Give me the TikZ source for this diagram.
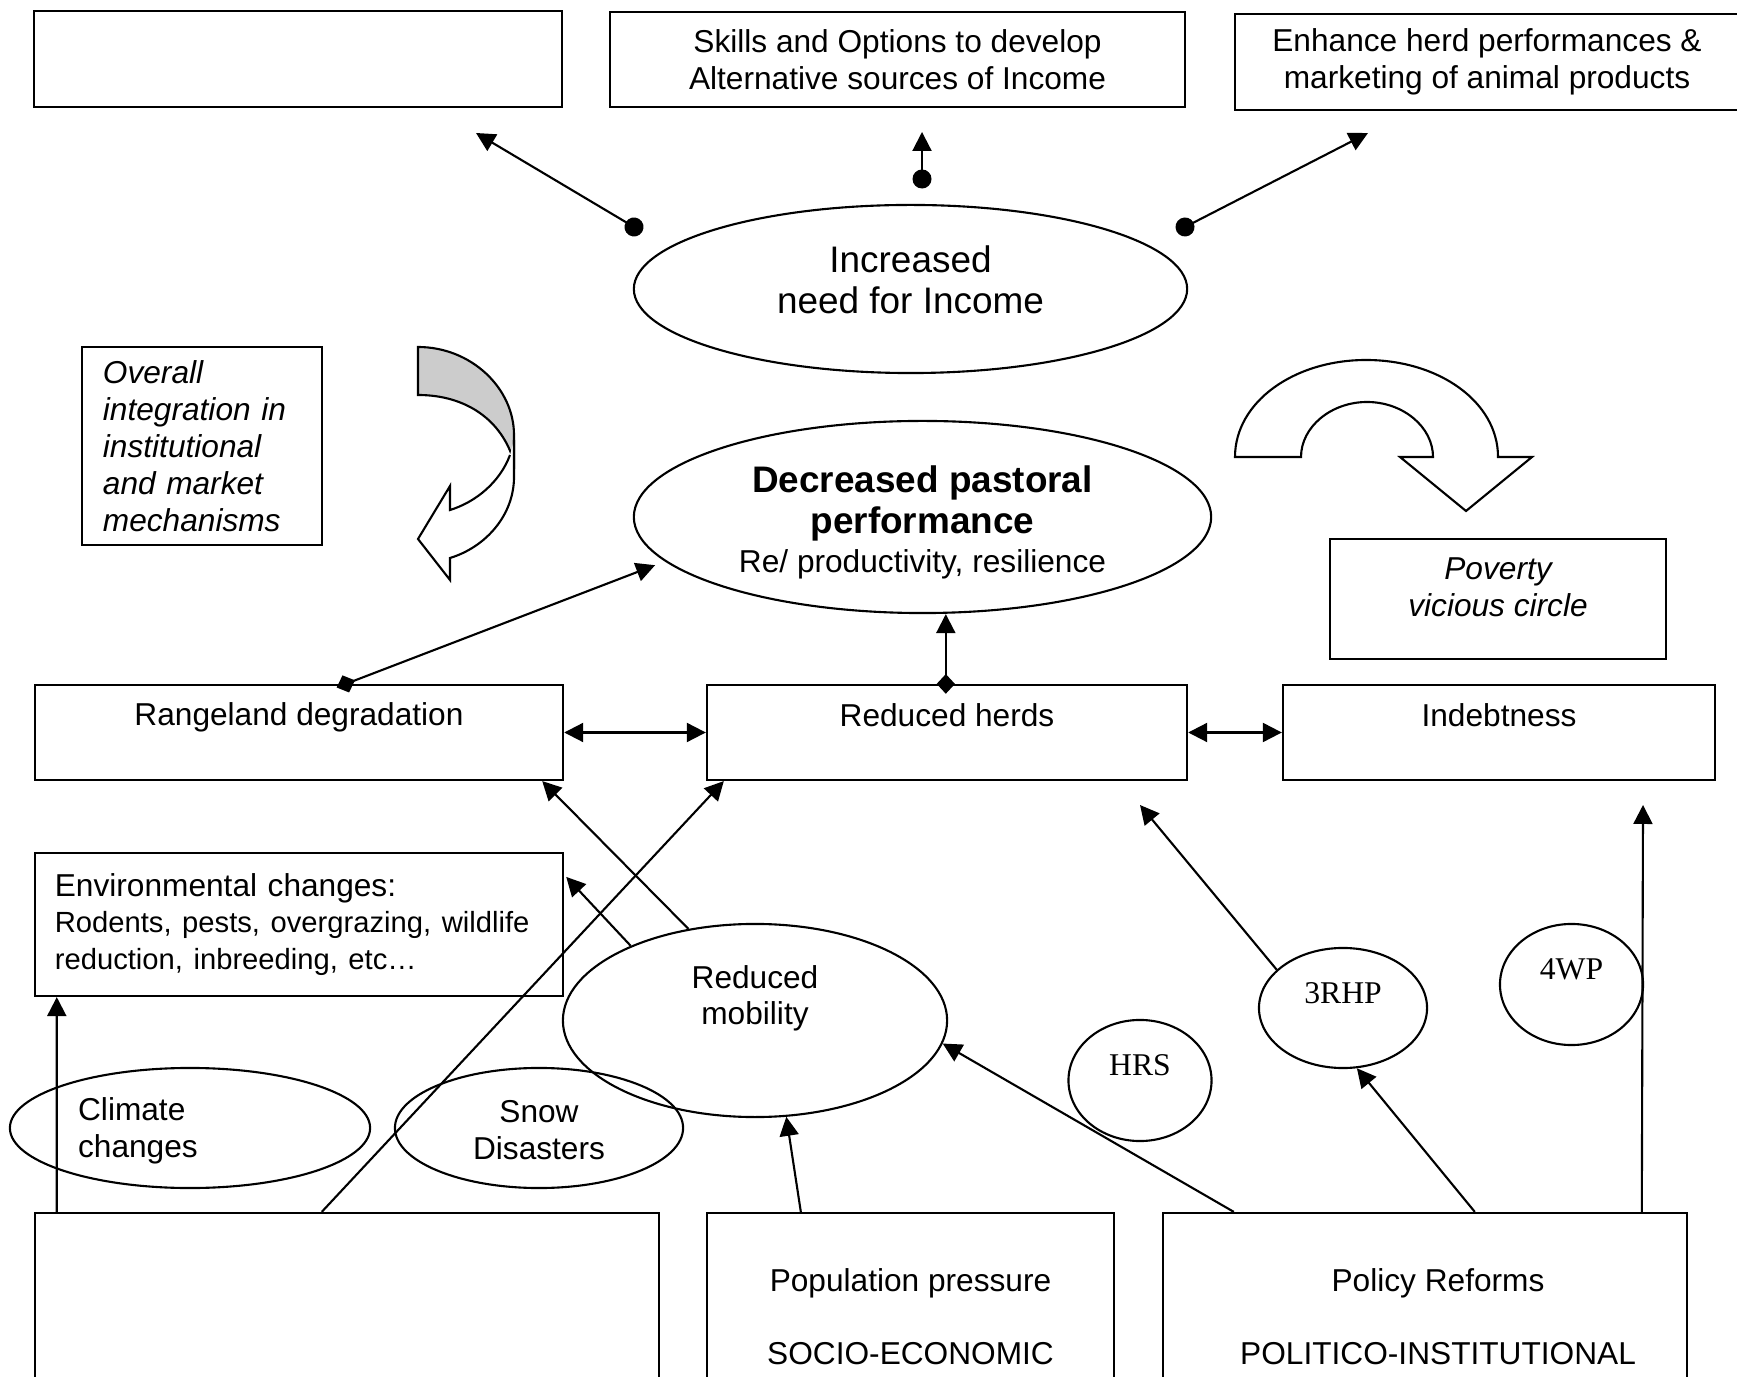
\documentclass[tikz,border=0pt]{standalone}
\usepackage{fontspec}
\setmainfont{Liberation Sans}
\newfontfamily\serifnum{Liberation Serif}
\usetikzlibrary{arrows.meta,shapes.geometric,calc}
\newcommand\smallfnt{\fontsize{9}{10.5}\selectfont}
\newcommand\bigfnt{\fontsize{10.5}{11.7}\selectfont}

\tikzset{
  box/.style={draw, rectangle, inner sep=0pt, align=center},
  oval/.style={draw, ellipse, inner sep=0pt, align=center},
  circlab/.style={yshift=4.3pt, font=\serifnum\smallfnt},
  arr/.style={-{Triangle[length=5.4pt, width=5.4pt]}},
  dblarr/.style={{Triangle[length=5.4pt, width=5.4pt]}-{Triangle[length=5.4pt, width=5.4pt]}},
  dotarr/.style={{Circle[length=5.4pt]}-{Triangle[length=5.4pt, width=5.4pt]}, shorten <=-2.7pt},
  diaarr/.style={{Diamond[length=5.6pt, width=5.2pt]}-{Triangle[length=5.4pt, width=5.4pt]}, shorten <=-2.8pt},
}

\begin{document}
\begin{tikzpicture}[x=0.01cm, y=-0.01cm, line width=0.6pt, font=\smallfnt]
\useasboundingbox (0,0) rectangle (1737,1377);
\clip (0,0) rectangle (1737,1377);

% top row
\node[box, minimum width=5.28cm, minimum height=0.96cm] (blank) at (298,59) {};
\node[box, minimum width=5.75cm, minimum height=0.95cm] (skills) at (897.5,59.5) {Skills and Options to develop\\Alternative sources of Income};
\node[box, minimum width=5.04cm, minimum height=0.96cm] (enhance) at (1487,62) {Enhance herd performances \&\\marketing of animal products};

\node[oval, minimum width=5.53cm, minimum height=1.68cm, label={[yshift=2.5pt, align=center, font=\bigfnt]center:{Increased\\need for Income}}] (income) at (910.5,289) {};

\coordinate (dotl) at (634,227);  \coordinate (tipl) at (476,133);
\coordinate (dotm) at (922,179);  \coordinate (tipm) at (922,132);
\coordinate (dotr) at (1185,227); \coordinate (tipr) at (1368,133);
\draw[dotarr] (dotl) -- (tipl);
\draw[dotarr] (dotm) -- (tipm);
\draw[dotarr] (dotr) -- (tipr);

% side notes and turning arrows
\node[box, minimum width=2.4cm, minimum height=1.98cm, text width=1.98cm, align=left, font=\itshape\smallfnt] (overall) at (202,446) {Overall\\integration in\\institutional\\and market\\mechanisms};

\filldraw[fill=gray!40] (418,347) .. controls (471,347) and (514,388) .. (514,435) -- (514,462) .. controls (502,420) and (466,395) .. (418,395) -- cycle;
\filldraw[fill=white] (514,440) -- (514,477) .. controls (514,515) and (486,547) .. (450,558) -- (450,580) -- (418,539) -- (450,486) -- (450,510) .. controls (476,502) and (500,482) .. (510,455);

\filldraw[fill=white] (1235,457) -- (1301,457) .. controls (1301,427) and (1331,402) .. (1367,402) .. controls (1403,402) and (1433,427) .. (1433,457) -- (1400,457) -- (1466,511) -- (1532,457) -- (1498,457) .. controls (1498,402) and (1439,360) .. (1366,360) .. controls (1294,360) and (1235,402) .. (1235,457) -- cycle;

\node[box, minimum width=3.36cm, minimum height=1.2cm, label={[yshift=3.4pt, align=center, font=\itshape\smallfnt]center:{Poverty\\vicious circle}}] (poverty) at (1498,599) {};

\node[oval, minimum width=5.77cm, minimum height=1.92cm, label={[yshift=-1.6pt, align=center, font=\bigfnt\bfseries]center:{Decreased pastoral\\performance\\[-0.6pt]{\mdseries\smallfnt Re/ productivity, resilience}}}] (decr) at (922.5,517) {};

% middle row
\node[box, minimum width=5.28cm, minimum height=0.95cm, label={[yshift=4.2pt]center:Rangeland degradation}] (range) at (299,732.5) {};
\node[box, minimum width=4.8cm, minimum height=0.95cm, label={[yshift=4.9pt]center:Reduced herds}] (herds) at (947,732.5) {};
\node[box, minimum width=4.32cm, minimum height=0.95cm, label={[yshift=4.9pt]center:Indebtness}] (debt) at (1499,732.5) {};

\coordinate (rd) at ($(range.north west)+(312,0)$);
\coordinate (hd) at ($(herds.north west)+(240,0)$);
\draw[diaarr] (rd) -- ($(decr.190)+(-11,3)$);
\draw[diaarr] (hd) -- (hd |- decr.south);
\draw[dblarr] (range.east) -- (herds.west);
\draw[dblarr] (herds.east) -- (debt.west);

% causes
\node[box, minimum width=5.28cm, minimum height=1.43cm, text width=4.88cm, align=left] (env) at (299,924.5) {Environmental changes:\\[0.9pt]\fontsize{8.3}{9.6}\selectfont Rodents, pests, overgrazing, wildlife\\reduction, inbreeding, etc…};

\node[oval, minimum width=3.84cm, minimum height=1.93cm, label={[yshift=6.3pt, align=center]center:{Reduced\\mobility}}] (mob) at (755,1020.5) {};
\node[oval, minimum width=3.6cm, minimum height=1.2cm, label={[xshift=-14.8pt, yshift=-0.9pt, align=left]center:{Climate\\changes}}] (clim) at (190,1128) {};
\node[oval, minimum width=2.88cm, minimum height=1.2cm, label={[yshift=-0.6pt, align=center]center:{Snow\\Disasters}}] (snow) at (539,1128) {};

\node[oval, minimum width=1.43cm, minimum height=1.21cm, label={[circlab]center:HRS}] (hrs) at (1140,1080.5) {};
\node[oval, minimum width=1.68cm, minimum height=1.2cm, label={[circlab]center:3RHP}] (rhp) at (1343,1008) {};
\node[oval, minimum width=1.43cm, minimum height=1.21cm, label={[circlab]center:4WP}] (wp) at (1571.5,984.5) {};

% bottom row
\node[box, minimum width=6.24cm, minimum height=2.07cm] (natbox) at (347,1316.5) {};
\node[box, minimum width=4.07cm, minimum height=2.07cm] (socbox) at (910.5,1316.5) {Population pressure\\[10.3pt]SOCIO-ECONOMIC};
\node[box, minimum width=5.24cm, minimum height=2.07cm, label={[xshift=3.7pt, align=center]center:{Policy Reforms\\[10.3pt]POLITICO-INSTITUTIONAL}}] (polbox) at (1425,1316.5) {};

\coordinate (herdsin) at (1140,805);
\coordinate (debtin) at (1643,805);

\draw[arr] ($(natbox.north west)+(23,0)$) -- ($(env.south west)+(23,0)$);
\draw[arr] ($(natbox.north west)+(288,0)$) -- ($(herds.south west)+(18,0)$);
\draw[arr] (mob.126) -- ($(range.south east)+(-22,0)$);
\draw[arr] (mob.149) -- ($(env.north east)+(2,25)$);
\draw[arr] ($(socbox.north west)+(95,0)$) -- (mob.-72);
\draw[arr] ($(polbox.north west)+(72,0)$) -- (mob.-7);
\draw[arr] ($(polbox.north west)+(313,0)$) -- (rhp.-77);
\draw[arr] (rhp.150) -- (herdsin);
\draw[arr] ($(polbox.north west)+(480,0)$) -- (debtin);
\end{tikzpicture}
\end{document}
